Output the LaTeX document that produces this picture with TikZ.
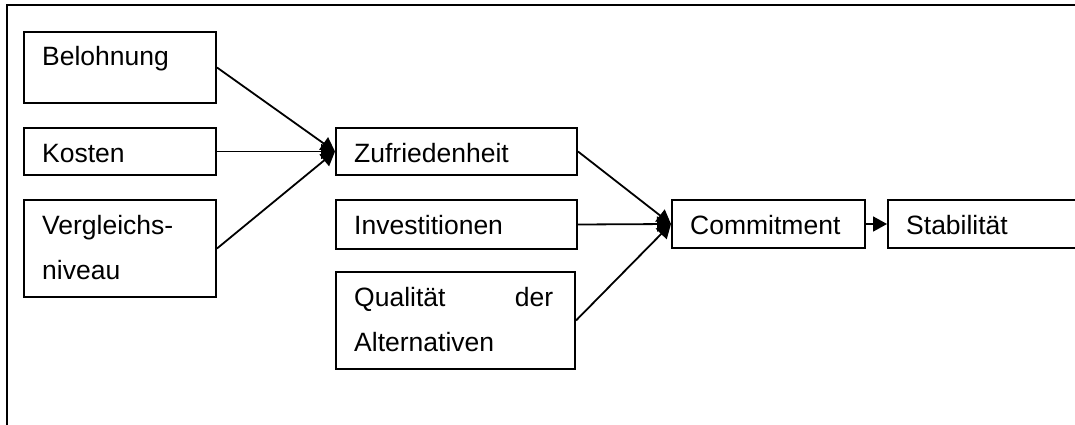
\documentclass[tikz,border=0pt]{standalone}
\usepackage{fontspec}
\setmainfont{Liberation Sans}
\usetikzlibrary{arrows.meta}

\begin{document}
\begin{tikzpicture}[x=1pt, y=-1pt,
    box/.style 2 args={draw, line width=2pt, anchor=north west, inner sep=0pt,
        minimum width=#1, minimum height=#2},
    txt/.style={anchor=base west, inner sep=0pt, align=left, text width=199pt,
        font=\fontsize{26.5}{45}\selectfont},
    link/.style={line width=1.8pt, -{Triangle[length=14pt, width=15pt]}}]
    \useasboundingbox (0, 0) rectangle (1075, 425);
    \draw[line width=2pt] (7, 440) -- (7, 5) -- (1090, 5); % frame, cut off at right and bottom

    % left column
    \node[box={192}{71}] (belohnung) at (23, 31) {};
    \node[box={192}{47}] (kosten) at (23, 127) {};
    \node[box={192}{97}] (vergleich) at (23, 199) {};
    \node[txt] (belohnung-t) at ([shift={(19, 35)}]belohnung.north west) {Belohnung};
    \node[txt] (kosten-t) at ([shift={(19, 35)}]kosten.north west) {Kosten};
    \node[txt] (vergleich-t) at ([shift={(19, 35)}]vergleich.north west) {Vergleichs-\\niveau};

    % middle column
    \node[box={241}{47}] (zufrieden) at (335, 127) {};
    \node[box={241}{49}] (invest) at (335, 199) {};
    \node[box={239}{97}] (qualitaet) at (335, 271) {};
    \node[txt] (zufrieden-t) at ([shift={(19, 35)}]zufrieden.north west) {Zufriedenheit};
    \node[txt] (invest-t) at ([shift={(19, 35)}]invest.north west) {Investitionen};
    \node[txt] (qualitaet-t) at ([shift={(19, 35)}]qualitaet.north west)
        {Qualit\"at\hfill der\\Alternativen};

    % right column
    \node[box={193}{48}] (commit) at (671, 199) {};
    \node[box={220}{48}] (stabil) at (887, 199) {};
    \node[txt] (commit-t) at ([shift={(19, 35)}]commit.north west) {Commitment};
    \node[txt] (stabil-t) at ([shift={(19, 35)}]stabil.north west) {Stabilit\"at};

    \draw[link] (belohnung.east) -- (zufrieden.west);
    \draw[link] (kosten.east) -- (zufrieden.west);
    \draw[link] (vergleich.east) -- (zufrieden.west);
    \draw[link] (zufrieden.east) -- (commit.west);
    \draw[link] (invest.east) -- (commit.west);
    \draw[link] (qualitaet.east) -- (commit.west);
    \draw[link] (commit.east) -- (stabil.west);
\end{tikzpicture}
\end{document}
